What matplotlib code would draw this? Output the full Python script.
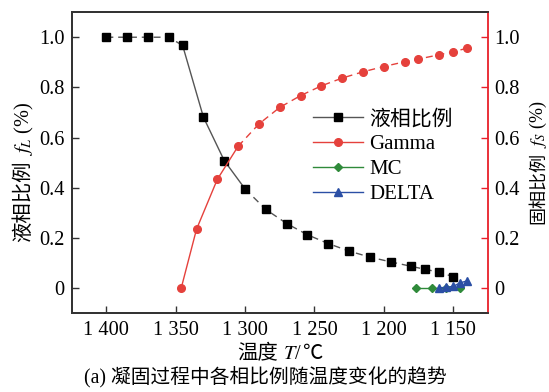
import matplotlib
matplotlib.use("Agg")
import matplotlib.pyplot as plt
from matplotlib.lines import Line2D
from matplotlib.ticker import FuncFormatter
from matplotlib.transforms import IdentityTransform

FAMILY = ['Liberation Serif', 'Noto Sans CJK SC', 'DejaVu Sans']
plt.rcParams['font.family'] = FAMILY
plt.rcParams['mathtext.fontset'] = 'stix'
plt.rcParams['font.size'] = 14.7
plt.rcParams['axes.unicode_minus'] = False

# liquid fraction
T_liq = [1400, 1385, 1370, 1355, 1345, 1330, 1315, 1300, 1285, 1270, 1255,
         1240, 1225, 1210, 1195, 1180, 1170, 1160, 1150]
f_liq = [1.0, 1.0, 1.0, 1.0, 0.967, 0.681, 0.508, 0.395, 0.313, 0.257, 0.212,
         0.177, 0.147, 0.123, 0.104, 0.086, 0.074, 0.063, 0.045]

# solid phases
T_gam = [1346, 1335, 1320, 1305, 1290, 1275, 1260, 1245, 1230, 1215, 1200,
         1185, 1175, 1160, 1150, 1140]
f_gam = [0.0, 0.234, 0.433, 0.565, 0.654, 0.720, 0.767, 0.806, 0.837, 0.862,
         0.883, 0.902, 0.913, 0.930, 0.942, 0.956]

T_mc = [1177, 1165, 1155, 1145]
f_mc = [0.0, 0.0, 0.0, 0.0]

T_del = [1160, 1155, 1150, 1145, 1140]
f_del = [0.0, 0.003, 0.006, 0.020, 0.028]

legend_labels = ['液相比例', 'Gamma', 'MC', 'DELTA']
x_ticks = [1400, 1350, 1300, 1250, 1200, 1150]
y_ticks = [0, 0.2, 0.4, 0.6, 0.8, 1.0]

c_blk, c_red, c_grn, c_blu = '#000000', '#e5413c', '#2f8a3a', '#2b4fa5'
c_line = '#555555'
dash = (5, 3.5)

fig = plt.figure(figsize=(5.49, 3.92), dpi=100)
ax = fig.add_axes([0.1306, 0.2015, 0.7578, 0.7675])
ax2 = ax.twinx()

# liquid: dashed plateau, solid steep drop, dashed tail
ax.plot(T_liq[:5], f_liq[:5], color=c_line, lw=1.0, dashes=dash)
ax.plot(T_liq[4:8], f_liq[4:8], color=c_line, lw=1.0)
ax.plot(T_liq[7:], f_liq[7:], color=c_line, lw=1.0, dashes=dash)
ax.plot(T_liq, f_liq, ls='none', marker='s', ms=5.2, color=c_blk, zorder=3)

ax2.plot(T_gam[:4], f_gam[:4], color=c_red, lw=1.0)
ax2.plot(T_gam[3:], f_gam[3:], color=c_red, lw=1.0, dashes=dash)
ax2.plot(T_gam, f_gam, ls='none', marker='o', ms=5.5, color=c_red, zorder=3)

ax2.plot(T_mc, f_mc, color=c_grn, lw=1.0, marker='D', ms=4.2)
ax2.plot(T_del, f_del, color=c_blu, lw=1.0, marker='^', ms=5.5)

for a in (ax, ax2):
    a.set_xlim(1425, 1125)
    a.set_ylim(-0.1, 1.1)
    a.set_yticks(y_ticks)
    a.yaxis.set_major_formatter(FuncFormatter(lambda v, p: '0' if v == 0 else f'{v:.1f}'))

ax.set_xticks(x_ticks)
ax.xaxis.set_major_formatter(FuncFormatter(lambda v, p: f'{int(v) // 1000} {int(v) % 1000:03d}'))

ax.tick_params(direction='in', length=5, width=1.0, colors='#333333', labelcolor='black', pad=6)
ax.tick_params(axis='y', pad=5)
ax2.tick_params(direction='in', length=5, width=1.0, colors='#e8202a', labelcolor='black', pad=5)

for s in ('left', 'top', 'bottom'):
    for a in (ax, ax2):
        a.spines[s].set_color('#333333')
        a.spines[s].set_linewidth(1.3)
ax2.spines['right'].set_color('#e8202a')
ax2.spines['right'].set_linewidth(1.3)
ax.spines['right'].set_visible(False)


def chain(pieces, x, y, rotation=0, size=14.7):
    # lay text pieces end to end (pixel coords), centred on x (or y if rotated)
    texts = []
    for s, gap in pieces:
        t = fig.text(0, 0, s, transform=IdentityTransform(), rotation=rotation,
                     rotation_mode='anchor', ha='left', va='baseline', fontsize=size)
        texts.append((t, gap))
    r = fig.canvas.get_renderer()
    lens = []
    for t, gap in texts:
        bb = t.get_window_extent(r)
        lens.append((bb.height if rotation else bb.width) + gap)
    pos = (y if rotation else x) - sum(lens) / 2
    for (t, gap), L in zip(texts, lens):
        t.set_position((x, pos) if rotation else (pos, y))
        pos += L


H = 392
chain([('液相比例', 4), ('$f_L$ (%)', 0)], 29, H - 172, rotation=90)
chain([('固相比例', 4), ('$f_S$ (%)', 0)], 543, H - 162, rotation=90, size=13.0)
chain([('温度', 5), ('$T$/', 0), ('℃', 0)], 280, H - 359)

fig.text(265 / 549, 1 - 378 / H, '(a) 凝固过程中各相比例随温度变化的趋势',
         ha='center', va='center', fontsize=14.2)

handles = [
    Line2D([], [], color=c_line, lw=1.0, marker='s', ms=5.2, mfc=c_blk, mec=c_blk),
    Line2D([], [], color=c_red, lw=1.0, marker='o', ms=5.5),
    Line2D([], [], color=c_grn, lw=1.0, marker='D', ms=4.2),
    Line2D([], [], color=c_blu, lw=1.0, marker='^', ms=5.5),
]
ax2.legend(handles, legend_labels, loc='upper left', bbox_to_anchor=(0.58, 0.675),
           frameon=False, borderpad=0, handlelength=2.4, handletextpad=0.3,
           labelspacing=0.25, borderaxespad=0, fontsize=15)

fig.savefig('out.png', dpi=100)
